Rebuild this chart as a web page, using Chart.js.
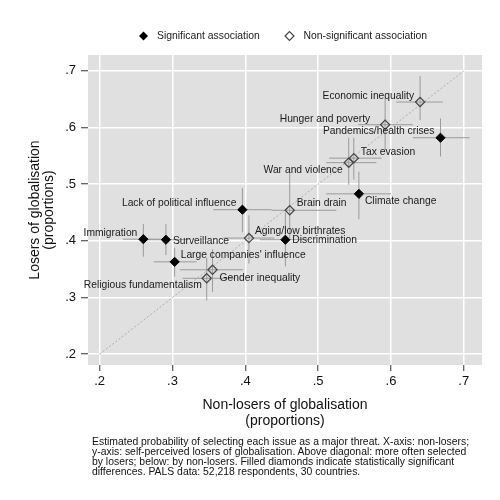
<!DOCTYPE html>
<html>
<head>
<meta charset="utf-8">
<script src="https://cdn.jsdelivr.net/npm/chart.js@4"></script>
<style>
  body { margin: 0; background: #fff; }
  #wrap { position: relative; width: 500px; height: 500px; }
  #caption {
    position: absolute; left: 92px; top: 437px;
    font: 10.4px "Liberation Sans", Arial, sans-serif; line-height: 10px;
    color: #111; white-space: pre;
  }
</style>
</head>
<body>
<div id="wrap">
  <canvas id="chart" width="500" height="500"></canvas>
  <div id="caption">Estimated probability of selecting each issue as a major threat. X-axis: non-losers;
y-axis: self-perceived losers of globalisation. Above diagonal: more often selected
by losers; below: by non-losers. Filled diamonds indicate statistically significant
differences. PALS data: 52,218 respondents, 30 countries.</div>
</div>
<script>
// Significant differences (filled diamonds)
const sigNames = ['Pandemics/health crises', 'Climate change', 'Lack of political influence',
  'Immigration', 'Surveillance', 'Discrimination', "Large companies' influence"];
const sigX   = [0.668, 0.556, 0.396, 0.260, 0.291, 0.455, 0.303];
const sigY   = [0.582, 0.483, 0.455, 0.403, 0.402, 0.402, 0.363];
const sigXLo = [0.630, 0.511, 0.356, 0.232, 0.262, 0.420, 0.274];
const sigXHi = [0.708, 0.600, 0.436, 0.288, 0.322, 0.490, 0.333];
const sigYLo = [0.549, 0.438, 0.415, 0.372, 0.375, 0.355, 0.337];
const sigYHi = [0.616, 0.522, 0.493, 0.430, 0.430, 0.450, 0.388];

// Non-significant differences (hollow diamonds)
const nsNames = ['Economic inequality', 'Hunger and poverty', 'Tax evasion', 'War and violence',
  'Brain drain', 'Aging/low birthrates', 'Gender inequality', 'Religious fundamentalism'];
const nsX   = [0.640, 0.592, 0.549, 0.542, 0.461, 0.405, 0.355, 0.347];
const nsY   = [0.645, 0.605, 0.546, 0.538, 0.454, 0.405, 0.349, 0.334];
const nsXLo = [0.607, 0.555, 0.515, 0.511, 0.436, 0.370, 0.310, 0.314];
const nsXHi = [0.671, 0.630, 0.587, 0.580, 0.525, 0.440, 0.397, 0.386];
const nsYLo = [0.613, 0.560, 0.508, 0.499, 0.405, 0.360, 0.310, 0.295];
const nsYHi = [0.691, 0.652, 0.582, 0.582, 0.520, 0.445, 0.385, 0.370];

const diagonal = [0.2, 0.7];
const tickValues = [0.2, 0.3, 0.4, 0.5, 0.6, 0.7];

// label placement: [dx, dy] from the marker, in pixels
const labelPos = {
  'Economic inequality': [-6, -6],
  'Hunger and poverty': [-15, -6],
  'Pandemics/health crises': [-6, -7],
  'Tax evasion': [7, -6],
  'War and violence': [-6, 7],
  'Climate change': [6, 7],
  'Lack of political influence': [-6, -7],
  'Brain drain': [7, -7],
  'Immigration': [-6, -6],
  'Surveillance': [7, 1],
  'Aging/low birthrates': [6, -7],
  'Discrimination': [7, 0],
  "Large companies' influence": [6, -7],
  'Gender inequality': [7, 8],
  'Religious fundamentalism': [-5, 7]
};

const FONT = '"Liberation Sans", Arial, sans-serif';
Chart.defaults.font.family = FONT;
Chart.defaults.color = '#111';

const fmt = v => '.' + Math.round(v * 10);
const pts = (xs, ys) => xs.map((x, i) => ({ x: x, y: ys[i] }));

const bgPlugin = {
  id: 'bg',
  beforeDraw(chart) {
    const a = chart.chartArea, ctx = chart.ctx;
    ctx.save();
    ctx.fillStyle = '#e0e0e0';
    ctx.fillRect(a.left, a.top, a.right - a.left, a.bottom - a.top);
    ctx.restore();
  }
};

const errorBars = {
  id: 'errorBars',
  beforeDatasetsDraw(chart) {
    const xs = chart.scales.x, ys = chart.scales.y, ctx = chart.ctx;
    ctx.save();
    ctx.strokeStyle = '#9a9a9a';
    ctx.lineWidth = 1;
    const draw = (X, Y, xl, xh, yl, yh) => {
      X.forEach((x, i) => {
        const px = xs.getPixelForValue(x), py = ys.getPixelForValue(Y[i]);
        ctx.beginPath();
        ctx.moveTo(xs.getPixelForValue(xl[i]), py);
        ctx.lineTo(xs.getPixelForValue(xh[i]), py);
        ctx.moveTo(px, ys.getPixelForValue(yl[i]));
        ctx.lineTo(px, ys.getPixelForValue(yh[i]));
        ctx.stroke();
      });
    };
    draw(sigX, sigY, sigXLo, sigXHi, sigYLo, sigYHi);
    draw(nsX, nsY, nsXLo, nsXHi, nsYLo, nsYHi);
    ctx.restore();
  }
};

const pointLabels = {
  id: 'pointLabels',
  afterDatasetsDraw(chart) {
    const ctx = chart.ctx;
    ctx.save();
    ctx.font = '10.3px ' + FONT;
    ctx.fillStyle = '#1a1a1a';
    ctx.textBaseline = 'middle';
    [[0, sigNames], [1, nsNames]].forEach(([di, names]) => {
      chart.getDatasetMeta(di).data.forEach((el, i) => {
        const off = labelPos[names[i]];
        ctx.textAlign = off[0] < 0 ? 'right' : 'left';
        ctx.fillText(names[i], el.x + off[0], el.y + off[1]);
      });
    });
    ctx.restore();
  }
};

const legendPlugin = {
  id: 'customLegend',
  afterDraw(chart) {
    const ctx = chart.ctx;
    const diamond = (x, y, r) => {
      ctx.beginPath();
      ctx.moveTo(x - r, y); ctx.lineTo(x, y - r); ctx.lineTo(x + r, y); ctx.lineTo(x, y + r);
      ctx.closePath();
    };
    ctx.save();
    ctx.font = '10.4px ' + FONT;
    ctx.textBaseline = 'middle';
    ctx.textAlign = 'left';
    diamond(143.5, 36, 4.5);
    ctx.fillStyle = '#000';
    ctx.fill();
    ctx.fillStyle = '#1a1a1a';
    ctx.fillText('Significant association', 157, 36);
    diamond(289.5, 36, 4.5);
    ctx.strokeStyle = '#444';
    ctx.lineWidth = 1.2;
    ctx.stroke();
    ctx.fillText('Non-significant association', 303.5, 36);
    ctx.restore();
  }
};

new Chart(document.getElementById('chart'), {
  type: 'scatter',
  data: {
    datasets: [
      {
        label: 'Significant association',
        data: pts(sigX, sigY),
        pointStyle: 'rectRot', radius: 4.6,
        backgroundColor: '#000', borderColor: '#000', borderWidth: 1,
        order: 1
      },
      {
        label: 'Non-significant association',
        data: pts(nsX, nsY),
        pointStyle: 'rectRot', radius: 4.6,
        backgroundColor: 'rgba(0,0,0,0)', borderColor: '#444', borderWidth: 1.2,
        order: 2
      },
      {
        type: 'line',
        label: 'diagonal',
        data: pts(diagonal, diagonal),
        borderColor: '#adadad', borderWidth: 1, borderDash: [2, 2],
        pointRadius: 0, fill: false,
        order: 3
      }
    ]
  },
  options: {
    responsive: false,
    animation: false,
    events: [],
    layout: { padding: { top: 55, right: 18, bottom: 70, left: 0 } },
    plugins: { legend: { display: false }, tooltip: { enabled: false } },
    scales: {
      x: {
        type: 'linear', min: 0.184, max: 0.725,
        afterBuildTicks: s => { s.ticks = tickValues.map(v => ({ value: v })); },
        afterFit: s => { s.height = 65; },
        ticks: { callback: fmt, font: { size: 13 }, color: '#111', padding: 3 },
        grid: { color: '#fff', lineWidth: 1.5, tickColor: '#333', tickWidth: 1, tickLength: 6 },
        border: { display: false },
        title: {
          display: true, text: ['Non-losers of globalisation', '(proportions)'],
          font: { size: 14, lineHeight: 1.15 }, color: '#111', padding: { top: 0, bottom: 1 }
        }
      },
      y: {
        type: 'linear', min: 0.181, max: 0.728,
        afterBuildTicks: s => { s.ticks = tickValues.map(v => ({ value: v })); },
        afterFit: s => { s.width = 88; },
        ticks: { callback: fmt, font: { size: 13 }, color: '#111', padding: 5 },
        grid: { color: '#fff', lineWidth: 1.5, tickColor: '#333', tickWidth: 1, tickLength: 7 },
        border: { display: false },
        title: {
          display: true, text: ['Losers of globalisation', '(proportions)'],
          font: { size: 14, lineHeight: 1.0 }, color: '#111', padding: { top: 28, bottom: 0 }
        }
      }
    }
  },
  plugins: [bgPlugin, errorBars, pointLabels, legendPlugin]
});
</script>
</body>
</html>
